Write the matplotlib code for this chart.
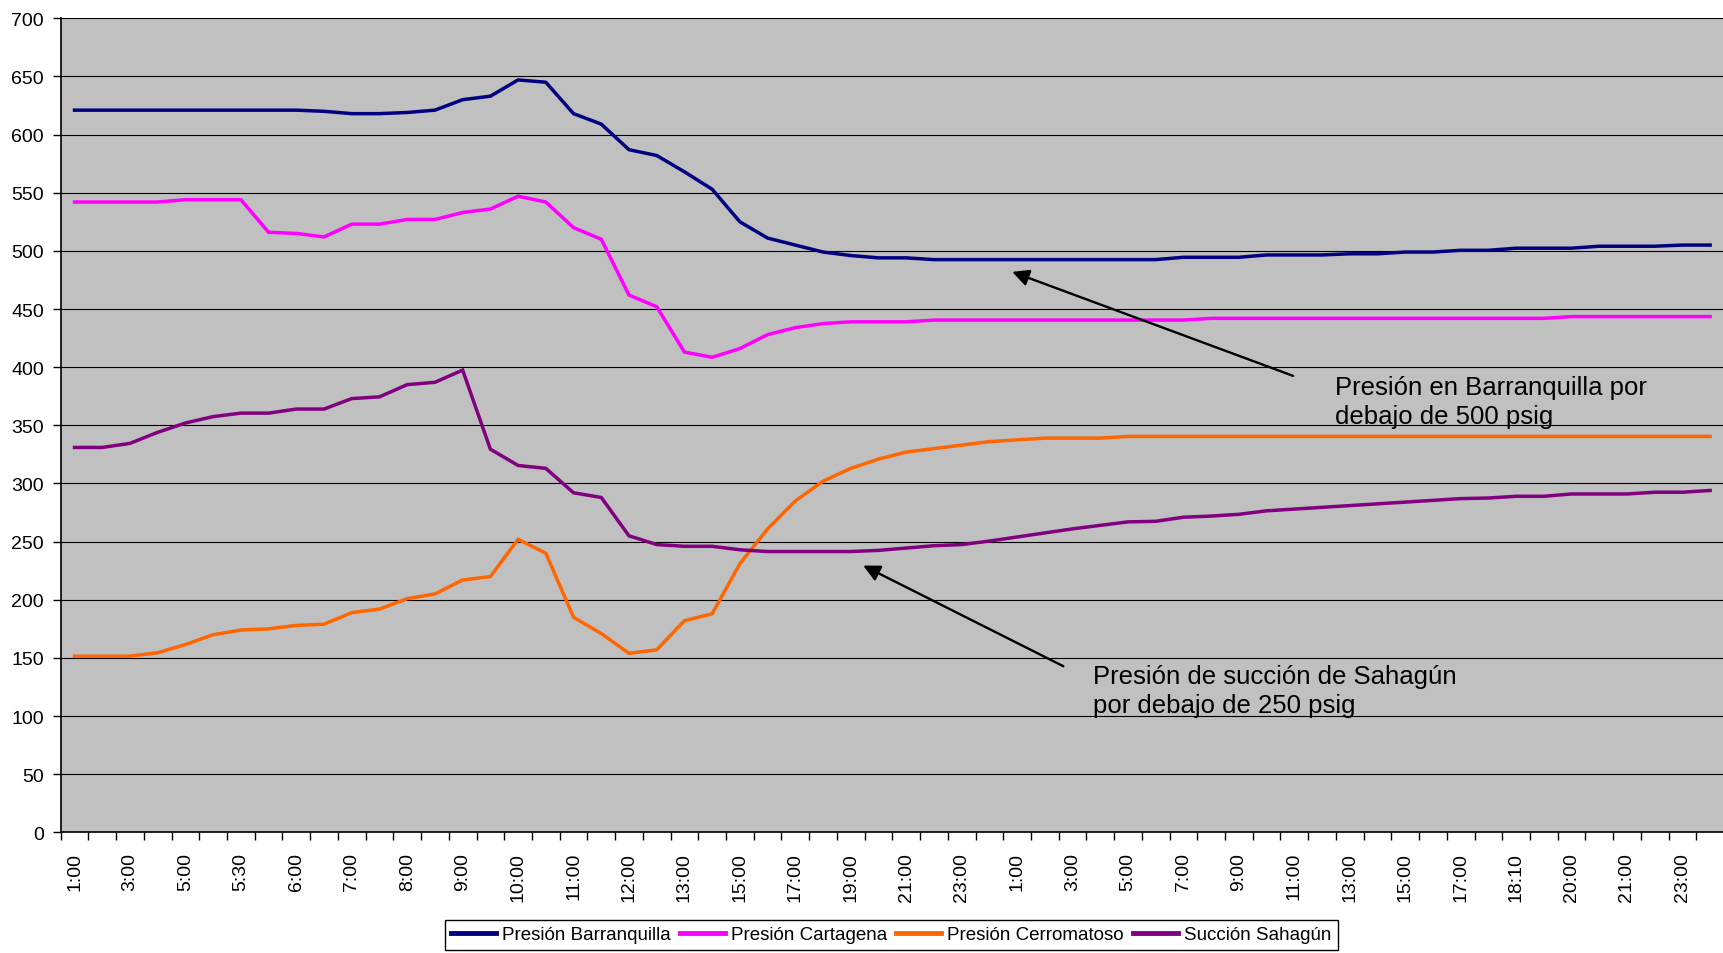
import matplotlib
matplotlib.use("Agg")
import matplotlib.pyplot as plt
import numpy as np

plt.rcParams['font.family'] = ['Liberation Sans', 'DejaVu Sans']

# tick labels shown on every second category
tick_labels = ["1:00", "3:00", "5:00", "5:30", "6:00", "7:00", "8:00", "9:00", "10:00", "11:00",
               "12:00", "13:00", "15:00", "17:00", "19:00", "21:00", "23:00", "1:00", "3:00", "5:00",
               "7:00", "9:00", "11:00", "13:00", "15:00", "17:00", "18:10", "20:00", "21:00", "23:00"]

barranquilla = [621, 621, 621, 621, 621, 621, 621, 621, 621, 620,
                618, 618, 619, 621, 630, 633, 647, 645, 618, 609,
                587, 582, 568, 553, 525, 511, 505, 499, 496, 494,
                494, 492.5, 492.5, 492.5, 492.5, 492.5, 492.5, 492.5, 492.5, 492.5,
                494.5, 494.5, 494.5, 496.5, 496.5, 496.5, 497.5, 497.5, 499, 499,
                500.5, 500.5, 502.3, 502.3, 502.3, 504, 504, 504, 505, 505]

cartagena = [542, 542, 542, 542, 544, 544, 544, 516, 515, 512,
             523, 523, 527, 527, 533, 536, 547, 542, 520, 510,
             462, 452, 413, 408.5, 416, 428, 434, 437.5, 439, 439,
             439, 440.5, 440.5, 440.5, 440.5, 440.5, 440.5, 440.5, 440.5, 440.5,
             440.5, 442, 442, 442, 442, 442, 442, 442, 442, 442,
             442, 442, 442, 442, 443.5, 443.5, 443.5, 443.5, 443.5, 443.5]

cerromatoso = [151.5, 151.5, 151.5, 154.5, 161.5, 170, 174, 175, 178, 179,
               189, 192, 201, 205, 217, 220, 252, 240, 185, 171,
               154, 157, 182, 188, 231, 261, 285, 302, 313, 321,
               327, 330, 333, 336, 337.5, 339, 339, 339, 340.5, 340.5,
               340.5, 340.5, 340.5, 340.5, 340.5, 340.5, 340.5, 340.5, 340.5, 340.5,
               340.5, 340.5, 340.5, 340.5, 340.5, 340.5, 340.5, 340.5, 340.5, 340.5]

sahagun = [331, 331, 334.5, 344, 352, 357.5, 360.5, 360.5, 364, 364,
           373, 374.5, 385, 387, 397.5, 329.5, 315.5, 313, 292, 288,
           255, 247.5, 246, 246, 243, 241.5, 241.5, 241.5, 241.5, 242.5,
           244.5, 246.5, 247.5, 250.5, 254, 257.5, 261, 264, 267, 267.5,
           271, 272, 273.5, 276.5, 278, 279.5, 281, 282.5, 284, 285.5,
           287, 287.5, 289, 289, 291, 291, 291, 292.5, 292.5, 294]

series = [("Presión Barranquilla", barranquilla, "#000080"),
          ("Presión Cartagena", cartagena, "#FF00FF"),
          ("Presión Cerromatoso", cerromatoso, "#FF6600"),
          ("Succión Sahagún", sahagun, "#800080")]

fig = plt.figure(figsize=(17.24, 9.54), dpi=100)
ax = fig.add_axes([0.0352, 0.1264, 0.9648, 0.8534])
ax.set_facecolor("#C0C0C0")

x = np.arange(len(barranquilla))
for name, vals, col in series:
    ax.plot(x, vals, color=col, lw=2.5, label=name, solid_joinstyle="miter")

ax.set_xlim(-0.5, 59.44)
ax.set_ylim(0, 700)
ax.set_yticks(np.arange(0, 701, 50))
ax.yaxis.grid(True, color="black", lw=0.8)
ax.set_axisbelow(True)

ax.set_xticks(np.arange(-0.5, 60, 1), minor=False)
ax.set_xticklabels([])
ax.set_xticks(np.arange(0, 60, 2), minor=True)
ax.set_xticklabels(tick_labels, minor=True, rotation=90, fontsize=14)
ax.tick_params(axis="x", which="major", length=6, width=1, direction="out")
ax.tick_params(axis="x", which="minor", length=0, pad=14)
ax.tick_params(axis="y", length=6, width=1, labelsize=14, pad=6)

for s in ["top", "right"]:
    ax.spines[s].set_visible(False)
for s in ["left", "bottom"]:
    ax.spines[s].set_color("black")
    ax.spines[s].set_linewidth(1.2)

# annotations (baseline refers to the last line here)
ax.annotate("", xy=(33.73, 482.8), xytext=(44.05, 391.7),
            arrowprops=dict(arrowstyle="-|>", color="black", lw=1.7, mutation_scale=25))
ax.text(45.47, 352.2, "Presión en Barranquilla por\ndebajo de 500 psig",
        fontsize=18.5, va="baseline", ha="left", linespacing=1.25)

ax.annotate("", xy=(28.36, 230.5), xytext=(35.76, 141.8),
            arrowprops=dict(arrowstyle="-|>", color="black", lw=1.7, mutation_scale=25))
ax.text(36.73, 103.7, "Presión de succión de Sahagún\npor debajo de 250 psig",
        fontsize=18.5, va="baseline", ha="left", linespacing=1.25)

leg = fig.legend(loc="upper center", bbox_to_anchor=(0.517, 0.035), ncol=4,
                 fontsize=13.5, frameon=True, fancybox=False, edgecolor="black",
                 framealpha=1, handlelength=2.4, handletextpad=0.3, columnspacing=0.5,
                 borderpad=0.35, borderaxespad=0)
leg.get_frame().set_linewidth(1.0)
for h in leg.get_lines():
    h.set_linewidth(3.5)

fig.savefig("out.png", dpi=100)
